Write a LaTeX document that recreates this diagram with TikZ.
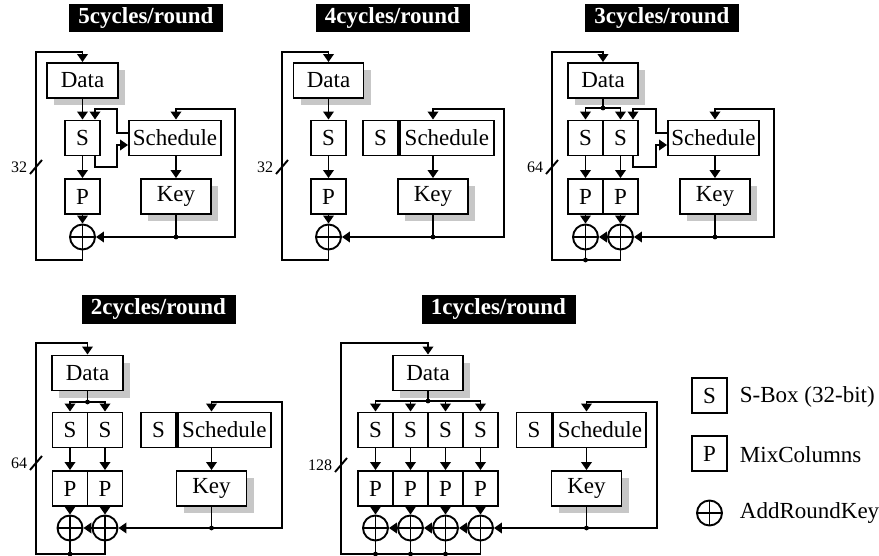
\documentclass[tikz,border=0pt]{standalone}
\usepackage{fontspec}
\setmainfont{Liberation Serif}
\usetikzlibrary{arrows.meta, positioning, shadows}

\begin{document}
\begin{tikzpicture}[x=1pt, y=-1pt, line width=1.9pt, >={Triangle[length=8pt, width=10.5pt]},
    font=\fontsize{23}{27}\selectfont,
    blk/.style={draw, fill=white, minimum width=35pt, minimum height=35pt, inner sep=0pt},
    shd/.style={general shadow={draw=none, fill=black!22, shadow xshift=7pt, shadow yshift=-7pt}},
    ttl/.style={fill=black, text=white, font=\fontsize{23}{27}\selectfont\bfseries, minimum width=154pt, minimum height=28.5pt, inner sep=0pt},
    xorr/.style={draw, circle, minimum size=25pt, inner sep=0pt, path picture={\draw (path picture bounding box.north) -- (path picture bounding box.south) (path picture bounding box.west) -- (path picture bounding box.east);}},
    wlab/.style={font=\fontsize{16}{19}\selectfont, anchor=east, inner sep=0pt},
    ltx/.style={anchor=west, inner sep=0pt}]
    \useasboundingbox (0,0) rectangle (879,556);

    % 5cycles/round
    \node[ttl] (t5) at (146,18) {5cycles/round};
    \node[blk, shd, minimum width=71pt] (d5) at (82.5,80.5) {Data};
    \node[blk] (s5) at (82.5,138) {S};
    \node[blk, minimum width=92pt] (sc5) at (175,138) {Schedule};
    \node[blk] (p5) at (82.5,196.5) {P};
    \node[blk, shd, minimum width=70pt] (k5) at (176,196.5) {Key};
    \node[xorr] (x5) at (82.5,237) {};
    \coordinate (u5) at (36,52);
    \coordinate (l5) at (36,260);
    \coordinate (m5) at (117,109);
    \coordinate (n5) at (117,167);
    \coordinate (r5) at (235,109);
    \coordinate (j5) at (176,237);
    \coordinate (w5) at (36,167);

    \draw[->] (d5.south) -- (s5.north);
    \draw[->] (s5.south) -- (p5.north);
    \draw[->] (p5.south) -- (x5.north);
    \draw[->] ([yshift=5pt]sc5.west) -| (m5) -| ([xshift=12.5pt]s5.north);
    \draw[->] ([xshift=12.5pt]s5.south) |- (n5) |- ([yshift=-7pt]sc5.west);
    \draw[->] (k5.north |- sc5.south) -- (k5.north);
    \draw[->] (k5.south) -- (j5) -- (x5.east);
    \draw[->] (j5) -| (r5) -| (k5.north |- sc5.north);
    \draw[->] (x5.south) |- (l5) -- (u5) -| (d5.north);
    \fill (j5) circle (2.4pt);
    \draw ([shift={(-6pt,-7pt)}]w5) -- ([shift={(6pt,7pt)}]w5);
    \node[wlab] (b5) at ([xshift=-8pt]w5) {32};

    % 4cycles/round
    \node[ttl] (t4) at (392.5,18) {4cycles/round};
    \node[blk, shd, minimum width=70pt] (d4) at (328.5,80.5) {Data};
    \node[blk] (s4) at (328.5,138) {S};
    \node[blk] (ks4) at (380.5,138) {S};
    \node[blk, minimum width=94pt, anchor=west] (sc4) at (ks4.east) {Schedule};
    \node[blk] (p4) at (328.5,196.5) {P};
    \node[blk, shd, minimum width=70pt] (k4) at (433,196.5) {Key};
    \node[xorr] (x4) at (328.5,237) {};
    \coordinate (u4) at (282,52);
    \coordinate (l4) at (282,260);
    \coordinate (r4) at (504,109);
    \coordinate (j4) at (433,237);
    \coordinate (w4) at (282,167);

    \draw[->] (d4.south) -- (s4.north);
    \draw[->] (s4.south) -- (p4.north);
    \draw[->] (p4.south) -- (x4.north);
    \draw[->] (k4.north |- sc4.south) -- (k4.north);
    \draw[->] (k4.south) -- (j4) -- (x4.east);
    \draw[->] (j4) -| (r4) -| (k4.north |- sc4.north);
    \draw[->] (x4.south) |- (l4) -- (u4) -| (d4.north);
    \fill (j4) circle (2.4pt);
    \draw ([shift={(-6pt,-7pt)}]w4) -- ([shift={(6pt,7pt)}]w4);
    \node[wlab] (b4) at ([xshift=-8pt]w4) {32};

    % 3cycles/round
    \node[ttl] (t3) at (662,18) {3cycles/round};
    \node[blk, shd, minimum width=70pt] (d3) at (603,80.5) {Data};
    \node[blk] (s3a) at (585.5,138) {S};
    \node[blk] (s3b) at (620.5,138) {S};
    \node[blk, minimum width=91pt] (sc3) at (713.5,138) {Schedule};
    \node[blk] (p3a) at (585.5,196.5) {P};
    \node[blk] (p3b) at (620.5,196.5) {P};
    \node[blk, shd, minimum width=70pt] (k3) at (715,196.5) {Key};
    \node[xorr] (x3a) at (585.5,237) {};
    \node[xorr] (x3b) at (620.5,237) {};
    \coordinate (u3) at (552,52);
    \coordinate (l3) at (552,260);
    \coordinate (sp3) at (603,108);
    \coordinate (m3) at (656,109);
    \coordinate (n3) at (656,167);
    \coordinate (r3) at (774,109);
    \coordinate (j3) at (715,237);
    \coordinate (w3) at (552,167);

    \draw (d3.south) -- (sp3);
    \draw[->] (sp3) -| (s3a.north);
    \draw[->] (sp3) -| (s3b.north);
    \draw[->] (s3a.south) -- (p3a.north);
    \draw[->] (s3b.south) -- (p3b.north);
    \draw[->] (p3a.south) -- (x3a.north);
    \draw[->] (p3b.south) -- (x3b.north);
    \draw[->] ([yshift=5pt]sc3.west) -| (m3) -| ([xshift=12.5pt]s3b.north);
    \draw[->] ([xshift=12.5pt]s3b.south) |- (n3) |- ([yshift=-7pt]sc3.west);
    \draw[->] (k3.north |- sc3.south) -- (k3.north);
    \draw[->] (k3.south) -- (j3) -- (x3b.east);
    \draw[->] (x3b.west) -- (x3a.east);
    \draw[->] (j3) -| (r3) -| (k3.north |- sc3.north);
    \draw[->] (x3b.south) |- (l3) -- (u3) -| (d3.north);
    \draw (x3a.south) -- (x3a.south |- l3);
    \fill (sp3) circle (2.4pt);
    \fill (j3) circle (2.4pt);
    \fill (x3a.south |- l3) circle (2.4pt);
    \draw ([shift={(-6pt,-7pt)}]w3) -- ([shift={(6pt,7pt)}]w3);
    \node[wlab] (b3) at ([xshift=-8pt]w3) {64};

    % 2cycles/round
    \node[ttl] (t2) at (158.5,309.5) {2cycles/round};
    \node[blk, shd, minimum width=71pt] (d2) at (87.5,373) {Data};
    \node[blk] (s2a) at (70,430) {S};
    \node[blk] (s2b) at (105,430) {S};
    \node[blk] (ks2) at (158.5,430) {S};
    \node[blk, minimum width=93pt, anchor=west] (sc2) at (ks2.east) {Schedule};
    \node[blk] (p2a) at (70,488.5) {P};
    \node[blk] (p2b) at (105,488.5) {P};
    \node[blk, shd, minimum width=70pt] (k2) at (211.5,488.5) {Key};
    \node[xorr] (x2a) at (70,528) {};
    \node[xorr] (x2b) at (105,528) {};
    \coordinate (u2) at (36,343);
    \coordinate (l2) at (36,554);
    \coordinate (sp2) at (87.5,402);
    \coordinate (r2) at (282,402);
    \coordinate (j2) at (211.5,528);
    \coordinate (w2) at (36,463);

    \draw (d2.south) -- (sp2);
    \draw[->] (sp2) -| (s2a.north);
    \draw[->] (sp2) -| (s2b.north);
    \draw[->] (s2a.south) -- (p2a.north);
    \draw[->] (s2b.south) -- (p2b.north);
    \draw[->] (p2a.south) -- (x2a.north);
    \draw[->] (p2b.south) -- (x2b.north);
    \draw[->] (k2.north |- sc2.south) -- (k2.north);
    \draw[->] (k2.south) -- (j2) -- (x2b.east);
    \draw[->] (x2b.west) -- (x2a.east);
    \draw[->] (j2) -| (r2) -| (k2.north |- sc2.north);
    \draw[->] (x2b.south) |- (l2) -- (u2) -| (d2.north);
    \draw (x2a.south) -- (x2a.south |- l2);
    \fill (sp2) circle (2.4pt);
    \fill (j2) circle (2.4pt);
    \fill (x2a.south |- l2) circle (2.4pt);
    \draw ([shift={(-6pt,-7pt)}]w2) -- ([shift={(6pt,7pt)}]w2);
    \node[wlab] (b2) at ([xshift=-8pt]w2) {64};

    % 1cycles/round
    \node[ttl] (t1) at (498.5,309.5) {1cycles/round};
    \node[blk, shd, minimum width=70pt] (d1) at (428,373) {Data};
    \node[blk] (s1a) at (375.5,430) {S};
    \node[blk] (s1b) at (410.5,430) {S};
    \node[blk] (s1c) at (445.5,430) {S};
    \node[blk] (s1d) at (480.5,430) {S};
    \node[blk] (ks1) at (534,430) {S};
    \node[blk, minimum width=93pt, anchor=west] (sc1) at (ks1.east) {Schedule};
    \node[blk] (p1a) at (375.5,488.5) {P};
    \node[blk] (p1b) at (410.5,488.5) {P};
    \node[blk] (p1c) at (445.5,488.5) {P};
    \node[blk] (p1d) at (480.5,488.5) {P};
    \node[blk, shd, minimum width=70pt] (k1) at (586.5,488.5) {Key};
    \node[xorr] (x1a) at (375.5,528) {};
    \node[xorr] (x1b) at (410.5,528) {};
    \node[xorr] (x1c) at (445.5,528) {};
    \node[xorr] (x1d) at (480.5,528) {};
    \coordinate (u1) at (341,343);
    \coordinate (l1) at (341,554);
    \coordinate (sp1) at (428,401);
    \coordinate (r1) at (657,402);
    \coordinate (j1) at (586.5,528);
    \coordinate (w1) at (341,465);

    \draw (d1.south) -- (sp1);
    \draw[->] (sp1) -| (s1a.north);
    \draw[->] (sp1) -| (s1b.north);
    \draw[->] (sp1) -| (s1c.north);
    \draw[->] (sp1) -| (s1d.north);
    \draw[->] (s1a.south) -- (p1a.north);
    \draw[->] (s1b.south) -- (p1b.north);
    \draw[->] (s1c.south) -- (p1c.north);
    \draw[->] (s1d.south) -- (p1d.north);
    \draw[->] (p1a.south) -- (x1a.north);
    \draw[->] (p1b.south) -- (x1b.north);
    \draw[->] (p1c.south) -- (x1c.north);
    \draw[->] (p1d.south) -- (x1d.north);
    \draw[->] (k1.north |- sc1.south) -- (k1.north);
    \draw[->] (k1.south) -- (j1) -- (x1d.east);
    \draw[->] (x1d.west) -- (x1c.east);
    \draw[->] (x1c.west) -- (x1b.east);
    \draw[->] (x1b.west) -- (x1a.east);
    \draw[->] (j1) -| (r1) -| (k1.north |- sc1.north);
    \draw[->] (x1d.south) |- (l1) -- (u1) -| (d1.north);
    \draw (x1a.south) -- (x1a.south |- l1);
    \draw (x1b.south) -- (x1b.south |- l1);
    \draw (x1c.south) -- (x1c.south |- l1);
    \fill (sp1) circle (2.4pt);
    \fill (j1) circle (2.4pt);
    \fill (x1a.south |- l1) circle (2.4pt);
    \fill (x1b.south |- l1) circle (2.4pt);
    \fill (x1c.south |- l1) circle (2.4pt);
    \draw ([shift={(-6pt,-7pt)}]w1) -- ([shift={(6pt,7pt)}]w1);
    \node[wlab] (b1) at ([xshift=-8pt]w1) {128};

    % legend
    \node[blk] (ls) at (709.5,395.5) {S};
    \node[ltx] (lst) at (739,397) {S-Box (32-bit)};
    \node[blk] (lp) at (709.5,453.5) {P};
    \node[ltx] (lpt) at (739,455) {MixColumns};
    \node[xorr] (lx) at (709.5,513) {};
    \node[ltx] (lxt) at (739,513) {AddRoundKey};
\end{tikzpicture}
\end{document}
